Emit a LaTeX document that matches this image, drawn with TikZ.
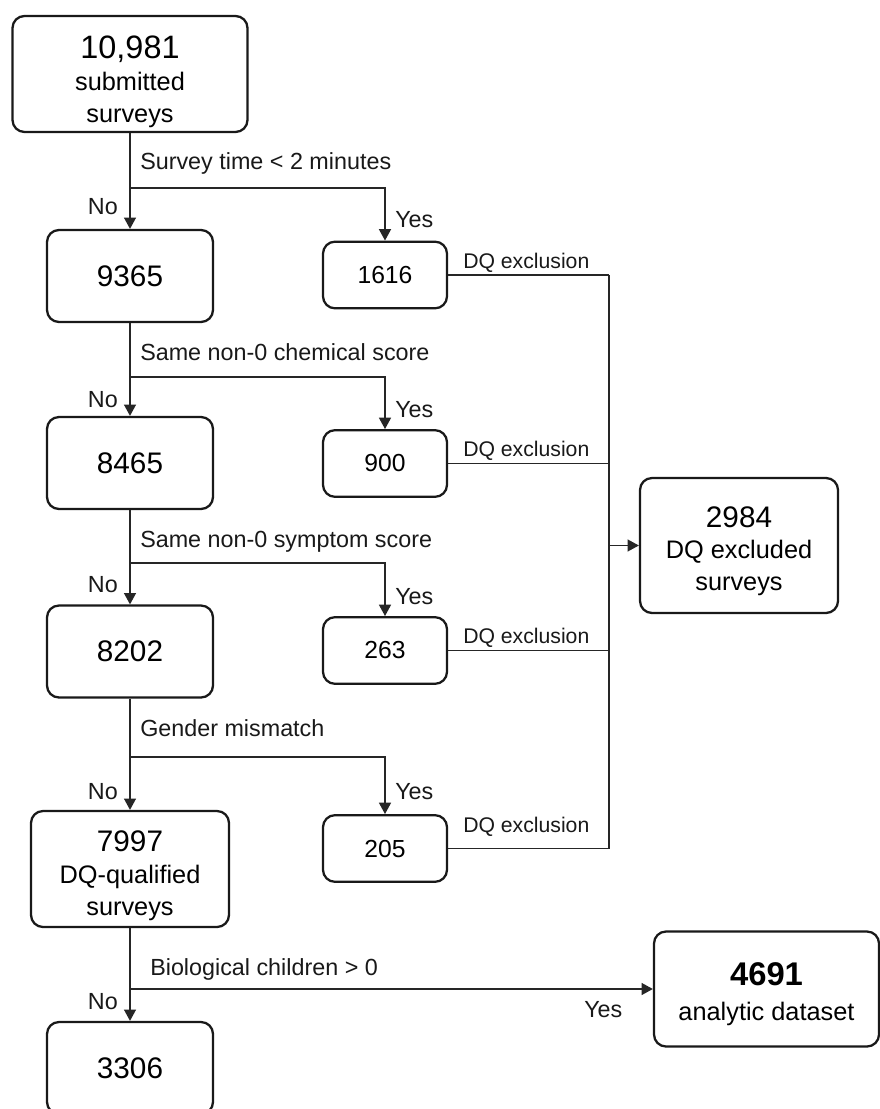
\documentclass[tikz,border=0pt]{standalone}
\usepackage{fontspec}
\setmainfont{Liberation Sans}
\usetikzlibrary{arrows.meta}
\begin{document}
\begin{tikzpicture}[x=0.75pt,y=-0.75pt,
  box/.style={draw=black!90, line width=1.7pt, rounded corners=9pt, align=center, inner sep=0pt},
  bigbox/.style={box, minimum width=124.5pt, minimum height=69pt, font=\fontsize{22.3}{24}\selectfont},
  smallbox/.style={box, minimum width=93pt, minimum height=50pt, font=\fontsize{18.5}{20}\selectfont},
  conn/.style={draw=black!85, line width=1pt},
  arr/.style={conn, -{Triangle[length=8.5pt,width=9pt]}},
  lbl/.style={font=\fontsize{17.5}{20}\selectfont, inner sep=0pt, text=black!90},
  dq/.style={font=\fontsize{15.9}{18}\selectfont, inner sep=0pt, anchor=base west, text=black!90}]
\clip (0,0) rectangle (880,1109);
\fill[white] (0,0) rectangle (880,1109);

% boxes
\node[box, minimum width=176.25pt, minimum height=87pt, font=\fontsize{19}{24}\selectfont] (b1) at (130,74) {\rule{0pt}{28pt}{\fontsize{24.3}{24}\selectfont 10,981}\\submitted\\surveys};
\node[bigbox] (b9365) at (130,276) {9365};
\node[smallbox] (b1616) at (385,275) {1616};
\node[bigbox] (b8465) at (130,463) {8465};
\node[smallbox] (b900) at (385,463.5) {900};
\node[bigbox] (b8202) at (130,651.5) {8202};
\node[smallbox] (b263) at (385,650.5) {263};
\node[box, minimum width=148.5pt, minimum height=87pt, font=\fontsize{19}{24}\selectfont] (b7997) at (130,869) {\rule{0pt}{25pt}{\fontsize{22.3}{24}\selectfont 7997}\\DQ-qualified\\surveys};
\node[smallbox] (b205) at (385,848.5) {205};
\node[box, minimum width=148.5pt, minimum height=101.25pt, font=\fontsize{19}{23.5}\selectfont] (b2984) at (739,545.5) {\rule{0pt}{24pt}{\fontsize{22.3}{23.5}\selectfont 2984}\\DQ excluded\\surveys};
\node[box, minimum width=168.75pt, minimum height=86.25pt, font=\fontsize{19}{26}\selectfont] (b4691) at (766.5,989) {\rule{0pt}{25pt}{\fontsize{24.6}{26}\selectfont\bfseries 4691}\\analytic dataset};
\node[bigbox] (b3306) at (130,1068) {3306};

% junctions
\coordinate (j1) at (130,188);
\coordinate (j2) at (130,377);
\coordinate (j3) at (130,563);
\coordinate (j4) at (130,757);
\coordinate (j5) at (130,989);
\coordinate (v) at (609,0);

% main column
\draw[arr] (b1.south) -- (b9365.north);
\draw[arr] (b9365.south) -- (b8465.north);
\draw[arr] (b8465.south) -- (b8202.north);
\draw[arr] (b8202.south) -- (b7997.north);
\draw[arr] (b7997.south) -- (b3306.north);

% yes branches
\draw[arr] (j1) -| (b1616.north);
\draw[arr] (j2) -| (b900.north);
\draw[arr] (j3) -| (b263.north);
\draw[arr] (j4) -| (b205.north);
\draw[arr] (j5) -- (b4691.west);

% DQ exclusion collectors
\draw[conn] (b1616.east) -- (b1616.east -| v);
\draw[conn] (b900.east) -- (b900.east -| v);
\draw[conn] (b263.east) -- (b263.east -| v);
\draw[conn] (b205.east) -- (b205.east -| v);
\draw[conn] (b1616.east -| v) -- (b205.east -| v);
\draw[arr] (b2984.west -| v) -- (b2984.west);

% condition labels
\node[lbl, anchor=base west] (c1) at (140,170) {Survey time < 2 minutes};
\node[lbl, anchor=base west] (c2) at (140,360) {Same non-0 chemical score};
\node[lbl, anchor=base west] (c3) at (140,547) {Same non-0 symptom score};
\node[lbl, anchor=base west] (c4) at (140,736) {Gender mismatch};
\node[lbl, anchor=base west] (c5) at (150,975) {Biological children > 0};

% No labels
\node[lbl, anchor=base east] (n1) at (118,215) {No};
\node[lbl, anchor=base east] (n2) at (118,407) {No};
\node[lbl, anchor=base east] (n3) at (118,592) {No};
\node[lbl, anchor=base east] (n4) at (118,799) {No};
\node[lbl, anchor=base east] (n5) at (118,1009) {No};

% Yes labels
\node[lbl, anchor=base west] (y1) at (395,228) {Yes};
\node[lbl, anchor=base west] (y2) at (395,417) {Yes};
\node[lbl, anchor=base west] (y3) at (395,604) {Yes};
\node[lbl, anchor=base west] (y4) at (395,799) {Yes};
\node[lbl, anchor=base west] (y5) at (584,1017) {Yes};

% DQ exclusion labels
\node[dq] (d1) at (463,268) {DQ exclusion};
\node[dq] (d2) at (463,456) {DQ exclusion};
\node[dq] (d3) at (463,643) {DQ exclusion};
\node[dq] (d4) at (463,832) {DQ exclusion};
\end{tikzpicture}
\end{document}
